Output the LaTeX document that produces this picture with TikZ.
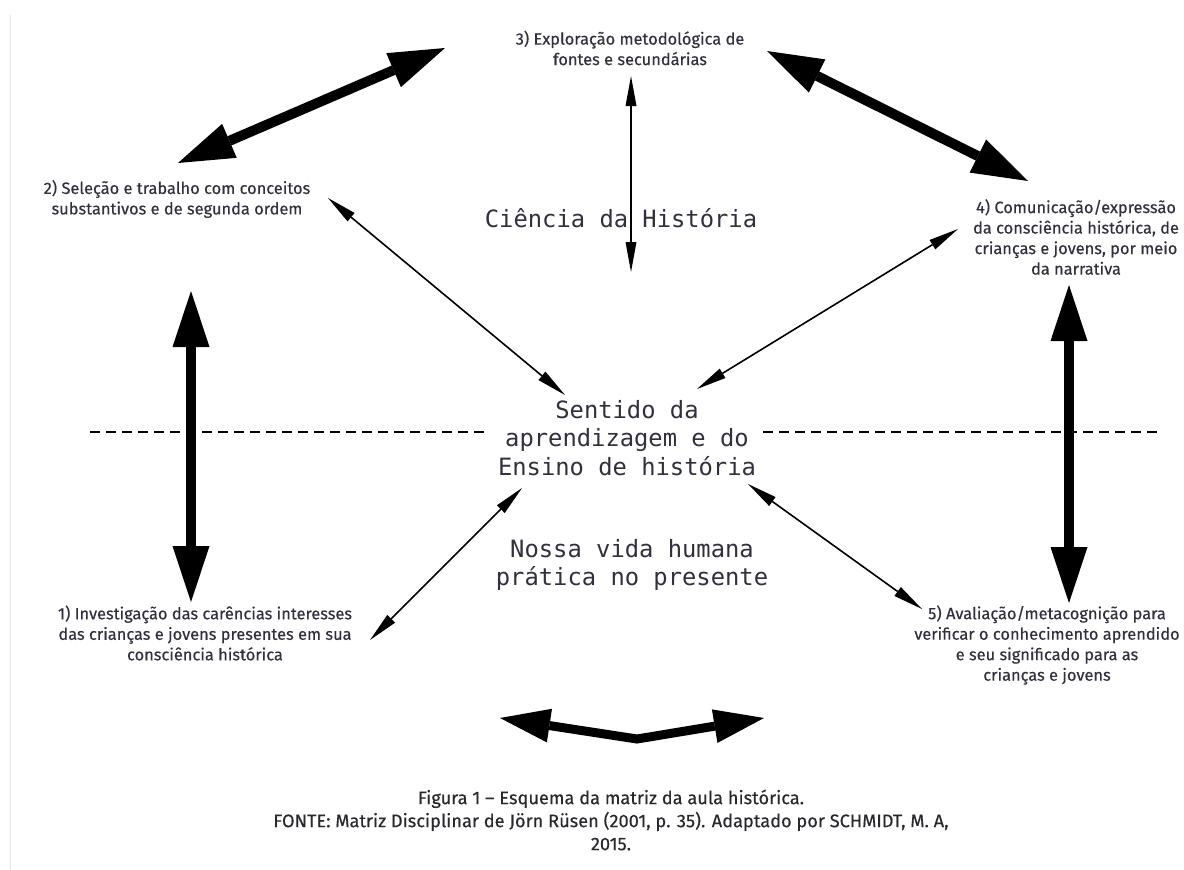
\documentclass[tikz,border=0pt]{standalone}
\usepackage{fontspec}
\setmainfont{Fira Sans}
\newfontfamily\lblfont{Fira Sans}[FakeBold=0.3]
\newfontfamily\monofont{DejaVu Sans Mono}
\usetikzlibrary{arrows.meta}
\definecolor{txt}{RGB}{48,48,62}
\definecolor{capt}{RGB}{40,40,45}
\begin{document}
\begin{tikzpicture}[x=1pt,y=-1pt,
  lbl/.style={font=\lblfont\fontsize{16.4}{20.5}\selectfont, text=txt, align=center, inner sep=0pt},
  mono/.style={font=\monofont\fontsize{23.8}{28.5}\selectfont, text=txt, align=center, inner sep=0pt},
  captstyle/.style={font=\lblfont\fontsize{18.2}{23}\selectfont, text=capt, align=center, inner sep=0pt},
  bigarr/.style={line width=10pt, {Triangle[length=56pt,width=37pt,line width=0pt]}-{Triangle[length=56pt,width=37pt,line width=0pt]}},
  midarr/.style={line width=9pt, line join=miter, {Triangle[length=50pt,width=34pt,line width=0pt]}-{Triangle[length=50pt,width=34pt,line width=0pt]}},
  thinarr/.style={line width=1.6pt, {Triangle[length=30pt,width=11pt,line width=0pt]}-{Triangle[length=30pt,width=11pt,line width=0pt]}},
  dashline/.style={line width=1.3pt, dash pattern=on 10pt off 6pt},
  border/.style={line width=1pt, draw=black!10}
]
\useasboundingbox (0,0) rectangle (1184,870);
\fill[white] (0,0) rectangle (1184,870);
\draw[border] (10,15) -- (10,870);

% labels
\node[lbl] (l3) at (630,48) {3) Exploração metodológica de\\fontes e secundárias};
\node[lbl] (l2) at (177,199) {2) Seleção e trabalho com conceitos\\substantivos e de segunda ordem};
\node[lbl] (l4) at (1076,237) {4) Comunicação/expressão\\da consciência histórica, de\\crianças e jovens, por meio\\da narrativa};
\node[lbl] (l1) at (205,633) {1) Investigação das carências interesses\\das crianças e jovens presentes em sua\\consciência histórica};
\node[lbl] (l5) at (1047,645) {5) Avaliação/metacognição para\\verificar o conhecimento aprendido\\e seu significado para as\\crianças e jovens};

\node[mono] (ciencia) at (621,218) {Ciência da História};
\node[mono] (sentido) at (627,438) {Sentido da\\aprendizagem e do\\Ensino de história};
\node[mono] (nossa) at (632,565) {Nossa vida humana\\prática no presente};

\node[captstyle] (caption) at (611,820) {Figura 1 – Esquema da matriz da aula histórica.\\FONTE: Matriz Disciplinar de Jörn Rüsen (2001, p. 35). Adaptado por SCHMIDT, M. A,\\2015.};

% dashed line
\coordinate (dl1) at (90,432);
\coordinate (dl2) at (490,432);
\coordinate (dr1) at (763,432);
\coordinate (dr2) at (1157,432);
\draw[dashline] (dl1) -- (dl2);
\draw[dashline] (dr1) -- (dr2);

% thick arrows
\coordinate (a23s) at (178,163);
\coordinate (a23e) at (445,48);
\draw[bigarr] (a23s) -- (a23e);
\coordinate (a34s) at (767,51);
\coordinate (a34e) at (1028,181);
\draw[bigarr] (a34s) -- (a34e);
\coordinate (a21s) at (191,291);
\coordinate (a21e) at (191,602);
\draw[bigarr] (a21s) -- (a21e);
\coordinate (a45s) at (1069,285);
\coordinate (a45e) at (1069,603);
\draw[bigarr] (a45s) -- (a45e);
\coordinate (b1) at (500,718);
\coordinate (b2) at (637,739);
\coordinate (b3) at (764,718);
\draw[midarr] (b1) -- (b2) -- (b3);

% thin arrows
\coordinate (t3a) at (631,76);
\coordinate (t3b) at (631,272);
\draw[thinarr] (t3a) -- (t3b);
\coordinate (t2a) at (328,198);
\coordinate (t2b) at (565,395);
\draw[thinarr] (t2a) -- (t2b);
\coordinate (t4a) at (958,229);
\coordinate (t4b) at (697,389);
\draw[thinarr] (t4a) -- (t4b);
\coordinate (t1a) at (370,640);
\coordinate (t1b) at (522,488);
\draw[thinarr] (t1a) -- (t1b);
\coordinate (t5a) at (922,609);
\coordinate (t5b) at (748,484);
\draw[thinarr] (t5a) -- (t5b);
\end{tikzpicture}
\end{document}
